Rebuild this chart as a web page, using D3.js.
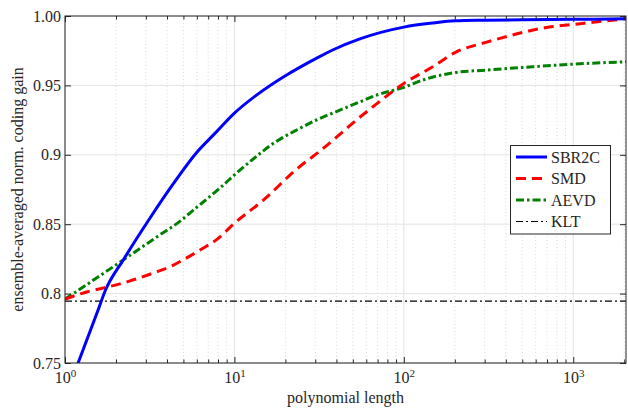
<!DOCTYPE html>
<html><head><meta charset="utf-8">
<script src="https://cdn.jsdelivr.net/npm/d3@7"></script>
</head>
<body style="margin:0"><svg id="c" width="628" height="410"></svg>
<script>
// ---- data ----
const sbr2cL = [1, 1.57, 1.72, 2.21, 3.17, 4.35, 5.97, 7.83, 10, 13.5, 20, 24.3, 31, 38, 55, 100, 150, 200, 300, 500, 1000, 2048];
const sbr2cV = [0.725, 0.7883, 0.8015, 0.8243, 0.8543, 0.879, 0.9015, 0.9165, 0.930, 0.943, 0.957, 0.963, 0.970, 0.9755, 0.9835, 0.992, 0.995, 0.9965, 0.997, 0.9973, 0.9976, 0.998];
const smdL = [1, 1.34, 1.68, 2.4, 3.31, 4.2, 4.98, 6.8, 7.82, 10, 14.7, 24, 31.8, 44, 52.4, 64, 100, 148, 203, 305, 460, 720, 1000, 1420, 2048];
const smdV = [0.796, 0.8012, 0.804, 0.809, 0.8148, 0.8195, 0.8243, 0.834, 0.8387, 0.8507, 0.867, 0.891, 0.9025, 0.917, 0.925, 0.9335, 0.9514, 0.9634, 0.974, 0.981, 0.987, 0.992, 0.9939, 0.996, 0.998];
const aevdL = [1, 2.21, 3.03, 3.63, 4.76, 5.7, 8.19, 10, 14.7, 16, 24.3, 30.4, 41.6, 54.7, 69, 100, 129, 194, 305, 575, 1000, 2048];
const aevdV = [0.796, 0.8243, 0.8358, 0.8423, 0.852, 0.860, 0.8759, 0.8855, 0.9025, 0.906, 0.919, 0.925, 0.932, 0.938, 0.943, 0.9486, 0.9538, 0.959, 0.961, 0.9634, 0.9653, 0.967];
const kltL = [1, 2048];
const kltV = [0.7946, 0.7946];
const seriesNames = ["SBR2C", "SMD", "AEVD", "KLT"];
const xMajor = [1, 10, 100, 1000];
const xExp = ["0", "1", "2", "3"];
const yTicks = [0.75, 0.8, 0.85, 0.9, 0.95, 1.0];
const yTickLabels = ["0.75", "0.8", "0.85", "0.9", "0.95", "1.00"];

// ---- layout ----
const FONT = "Liberation Serif";
const L = 65, R = 626, T = 16, B = 363;
const svg = d3.select("#c");
const x = d3.scaleLog().domain([1, 2048]).range([L, R]);
const y = d3.scaleLinear().domain([0.75, 1.0]).range([B, T]);

const xMinor = [];
for (let d = 1; d <= 1000; d *= 10) for (let k = 2; k <= 9; k++) if (d * k < 2048) xMinor.push(d * k);

// grid
const grid = svg.append("g");
grid.selectAll(".xm").data(xMinor).join("line")
  .attr("x1", d => x(d)).attr("x2", d => x(d)).attr("y1", T).attr("y2", B)
  .attr("stroke", "#cfcfcf").attr("stroke-width", 0.8).attr("stroke-dasharray", "1,2.5");
grid.selectAll(".xM").data(xMajor).join("line")
  .attr("x1", d => x(d)).attr("x2", d => x(d)).attr("y1", T).attr("y2", B)
  .attr("stroke", "#e3e3e3").attr("stroke-width", 1);
grid.selectAll(".yM").data(yTicks).join("line")
  .attr("x1", L).attr("x2", R).attr("y1", d => y(d)).attr("y2", d => y(d))
  .attr("stroke", "#e3e3e3").attr("stroke-width", 1);

// clip
svg.append("clipPath").attr("id", "clip").append("rect")
  .attr("x", L).attr("y", T).attr("width", R - L).attr("height", B - T);

const plot = svg.append("g").attr("clip-path", "url(#clip)");
const line = d3.line().x(d => x(d[0])).y(d => y(d[1])).curve(d3.curveMonotoneX);
const zip = (a, b) => a.map((v, i) => [v, b[i]]);

const styles = [
  {color: "#0000ff", w: 3, dash: null},
  {color: "#ff0000", w: 3, dash: "10,6"},
  {color: "#008000", w: 3, dash: "8,3,2.5,3"},
  {color: "#000000", w: 1.2, dash: "7,3,2,3"}
];
const data = [zip(sbr2cL, sbr2cV), zip(smdL, smdV), zip(aevdL, aevdV), zip(kltL, kltV)];
[3, 2, 1, 0].forEach(i => {
  plot.append("path").datum(data[i]).attr("d", line)
    .attr("fill", "none").attr("stroke", styles[i].color)
    .attr("stroke-width", styles[i].w)
    .attr("stroke-dasharray", styles[i].dash);
});

// axes
const axCol = "#262626";
function styleAxis(g) {
  g.attr("font-family", FONT);
  g.select(".domain").remove();
  g.selectAll("line").attr("stroke", axCol).attr("stroke-width", 1);
}
const gB = svg.append("g").attr("transform", `translate(0,${B})`)
  .call(d3.axisBottom(x).tickValues(xMajor).tickSize(-6).tickPadding(12).tickFormat(""));
gB.call(styleAxis);
gB.selectAll(".tick text").each(function(d, i) {
  const t = d3.select(this);
  t.attr("font-size", 16).attr("dy", 0).attr("y", 20).attr("fill", axCol).attr("font-family", FONT);
  t.append("tspan").text("10");
  t.append("tspan").attr("font-size", 11).attr("dy", -6).text(xExp[i]);
});
svg.append("g").attr("transform", `translate(0,${B})`)
  .call(d3.axisBottom(x).tickValues(xMinor).tickSize(-3.5).tickFormat("")).call(styleAxis);
svg.append("g").attr("transform", `translate(0,${T})`)
  .call(d3.axisTop(x).tickValues(xMajor).tickSize(-6).tickFormat("")).call(styleAxis);
svg.append("g").attr("transform", `translate(0,${T})`)
  .call(d3.axisTop(x).tickValues(xMinor).tickSize(-3.5).tickFormat("")).call(styleAxis);

const gL = svg.append("g").attr("transform", `translate(${L},0)`)
  .call(d3.axisLeft(y).tickValues(yTicks).tickSize(-6).tickPadding(4)
    .tickFormat((d, i) => yTickLabels[i]));
gL.call(styleAxis);
gL.selectAll(".tick text").attr("font-size", 16).attr("fill", axCol).attr("font-family", FONT);
svg.append("g").attr("transform", `translate(${R},0)`)
  .call(d3.axisRight(y).tickValues(yTicks).tickSize(-6).tickFormat("")).call(styleAxis);

// frame
svg.append("rect").attr("x", L).attr("y", T).attr("width", R - L).attr("height", B - T)
  .attr("fill", "none").attr("stroke", axCol).attr("stroke-width", 1);

// labels
svg.append("text").attr("x", (L + R) / 2).attr("y", 403).attr("text-anchor", "middle")
  .attr("font-size", 16).attr("fill", axCol).attr("font-family", FONT).text("polynomial length");
svg.append("text").attr("transform", `translate(23,${(T + B) / 2}) rotate(-90)`)
  .attr("text-anchor", "middle").attr("font-size", 16).attr("fill", axCol).attr("font-family", FONT)
  .text("ensemble-averaged norm. coding gain");

// legend
const lg = svg.append("g");
lg.append("rect").attr("x", 510.5).attr("y", 145.5).attr("width", 100).attr("height", 88.5)
  .attr("fill", "#fff").attr("stroke", axCol).attr("stroke-width", 1);
const rowY = [157, 178.5, 200, 221.5];
seriesNames.forEach((n, i) => {
  lg.append("line").attr("x1", 516).attr("x2", 547).attr("y1", rowY[i]).attr("y2", rowY[i])
    .attr("stroke", styles[i].color).attr("stroke-width", styles[i].w)
    .attr("stroke-dasharray", styles[i].dash);
  lg.append("text").attr("x", 551).attr("y", rowY[i] + 5.5).attr("font-size", 16)
    .attr("fill", axCol).attr("font-family", FONT).text(n);
});
</script></body></html>
